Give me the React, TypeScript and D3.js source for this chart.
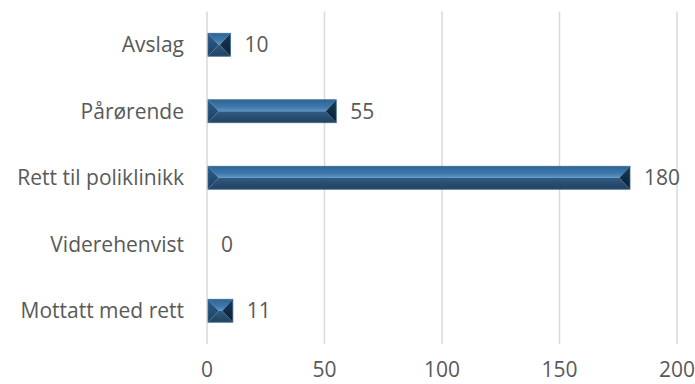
import React from "react";
import * as d3 from "d3";

const categories = ["Avslag", "Pårørende", "Rett til poliklinikk", "Viderehenvist", "Mottatt med rett"];
const values = [10, 55, 180, 0, 11];
const ticks = [0, 50, 100, 150, 200];

const W = 695;
const H = 384;
const margin = { left: 207, right: 18, top: 11.5, bottom: 40 };

export default function App() {
  const x = d3.scaleLinear().domain([0, 200]).range([margin.left, W - margin.right]);
  const y = d3
    .scaleBand<string>()
    .domain(categories)
    .range([margin.top, H - margin.bottom])
    .paddingInner(0.655)
    .paddingOuter(0.3275);
  const font = "'Open Sans', sans-serif";
  const textColor = "#595959";
  const fs = 21;
  const h = y.bandwidth();

  return (
    <svg width={W} height={H} style={{ position: "absolute", left: 0, top: 0 }}>
      <defs>
        <linearGradient id="topFace" x1="0" y1="0" x2="0" y2="1">
          <stop offset="0%" stopColor="#2d6594" />
          <stop offset="60%" stopColor="#3e78aa" />
          <stop offset="100%" stopColor="#5b94c5" />
        </linearGradient>
        <linearGradient id="botFace" x1="0" y1="0" x2="0" y2="1">
          <stop offset="0%" stopColor="#2f5d86" />
          <stop offset="50%" stopColor="#284d70" />
          <stop offset="100%" stopColor="#23445f" />
        </linearGradient>
        <linearGradient id="leftFace" x1="0" y1="0" x2="0" y2="1">
          <stop offset="0%" stopColor="#2a5f8e" />
          <stop offset="100%" stopColor="#1d3f5e" />
        </linearGradient>
        <linearGradient id="rightFace" x1="0" y1="0" x2="0" y2="1">
          <stop offset="0%" stopColor="#163a5a" />
          <stop offset="100%" stopColor="#0b1f33" />
        </linearGradient>
      </defs>
      {ticks.map((t) => (
        <line
          key={"g" + t}
          x1={x(t)}
          x2={x(t)}
          y1={margin.top}
          y2={H - margin.bottom}
          stroke="#d9d9d9"
          strokeWidth={1.5}
        />
      ))}
      {categories.map((c, i) => {
        const v = values[i];
        const y0 = y(c)!;
        const x0 = x(0) + 1;
        const x1 = x(v);
        const w = x1 - x0;
        const cy = y0 + h / 2;
        return (
          <g key={c}>
            {w > 0 && (() => {
              const b = Math.min(10.5, w / 2, h / 2);
              const y1 = y0 + h;
              return (
                <g>
                  <polygon
                    points={`${x0},${y0} ${x1},${y0} ${x1 - b},${cy} ${x0 + b},${cy}`}
                    fill="url(#topFace)"
                  />
                  <polygon
                    points={`${x0 + b},${cy} ${x1 - b},${cy} ${x1},${y1} ${x0},${y1}`}
                    fill="url(#botFace)"
                  />
                  <polygon points={`${x0},${y0} ${x0 + b},${cy} ${x0},${y1}`} fill="url(#leftFace)" />
                  <polygon points={`${x1},${y0} ${x1 - b},${cy} ${x1},${y1}`} fill="url(#rightFace)" />
                  <rect x={x0} y={y0} width={w} height={h} fill="none" stroke="#3a6a93" strokeWidth={0.8} />
                </g>
              );
            })()}
            <text
              x={x1 + 14}
              y={cy}
              dy="0.36em"
              fontFamily={font}
              fontSize={fs}
              fill={textColor}
            >
              {v}
            </text>
            <text
              x={184}
              y={cy}
              dy="0.36em"
              textAnchor="end"
              fontFamily={font}
              fontSize={fs}
              fill={textColor}
            >
              {c}
            </text>
          </g>
        );
      })}
      {ticks.map((t) => (
        <text
          key={"t" + t}
          x={x(t)}
          y={369.5}
          dy="0.36em"
          textAnchor="middle"
          fontFamily={font}
          fontSize={fs}
          fill={textColor}
        >
          {t}
        </text>
      ))}
    </svg>
  );
}
